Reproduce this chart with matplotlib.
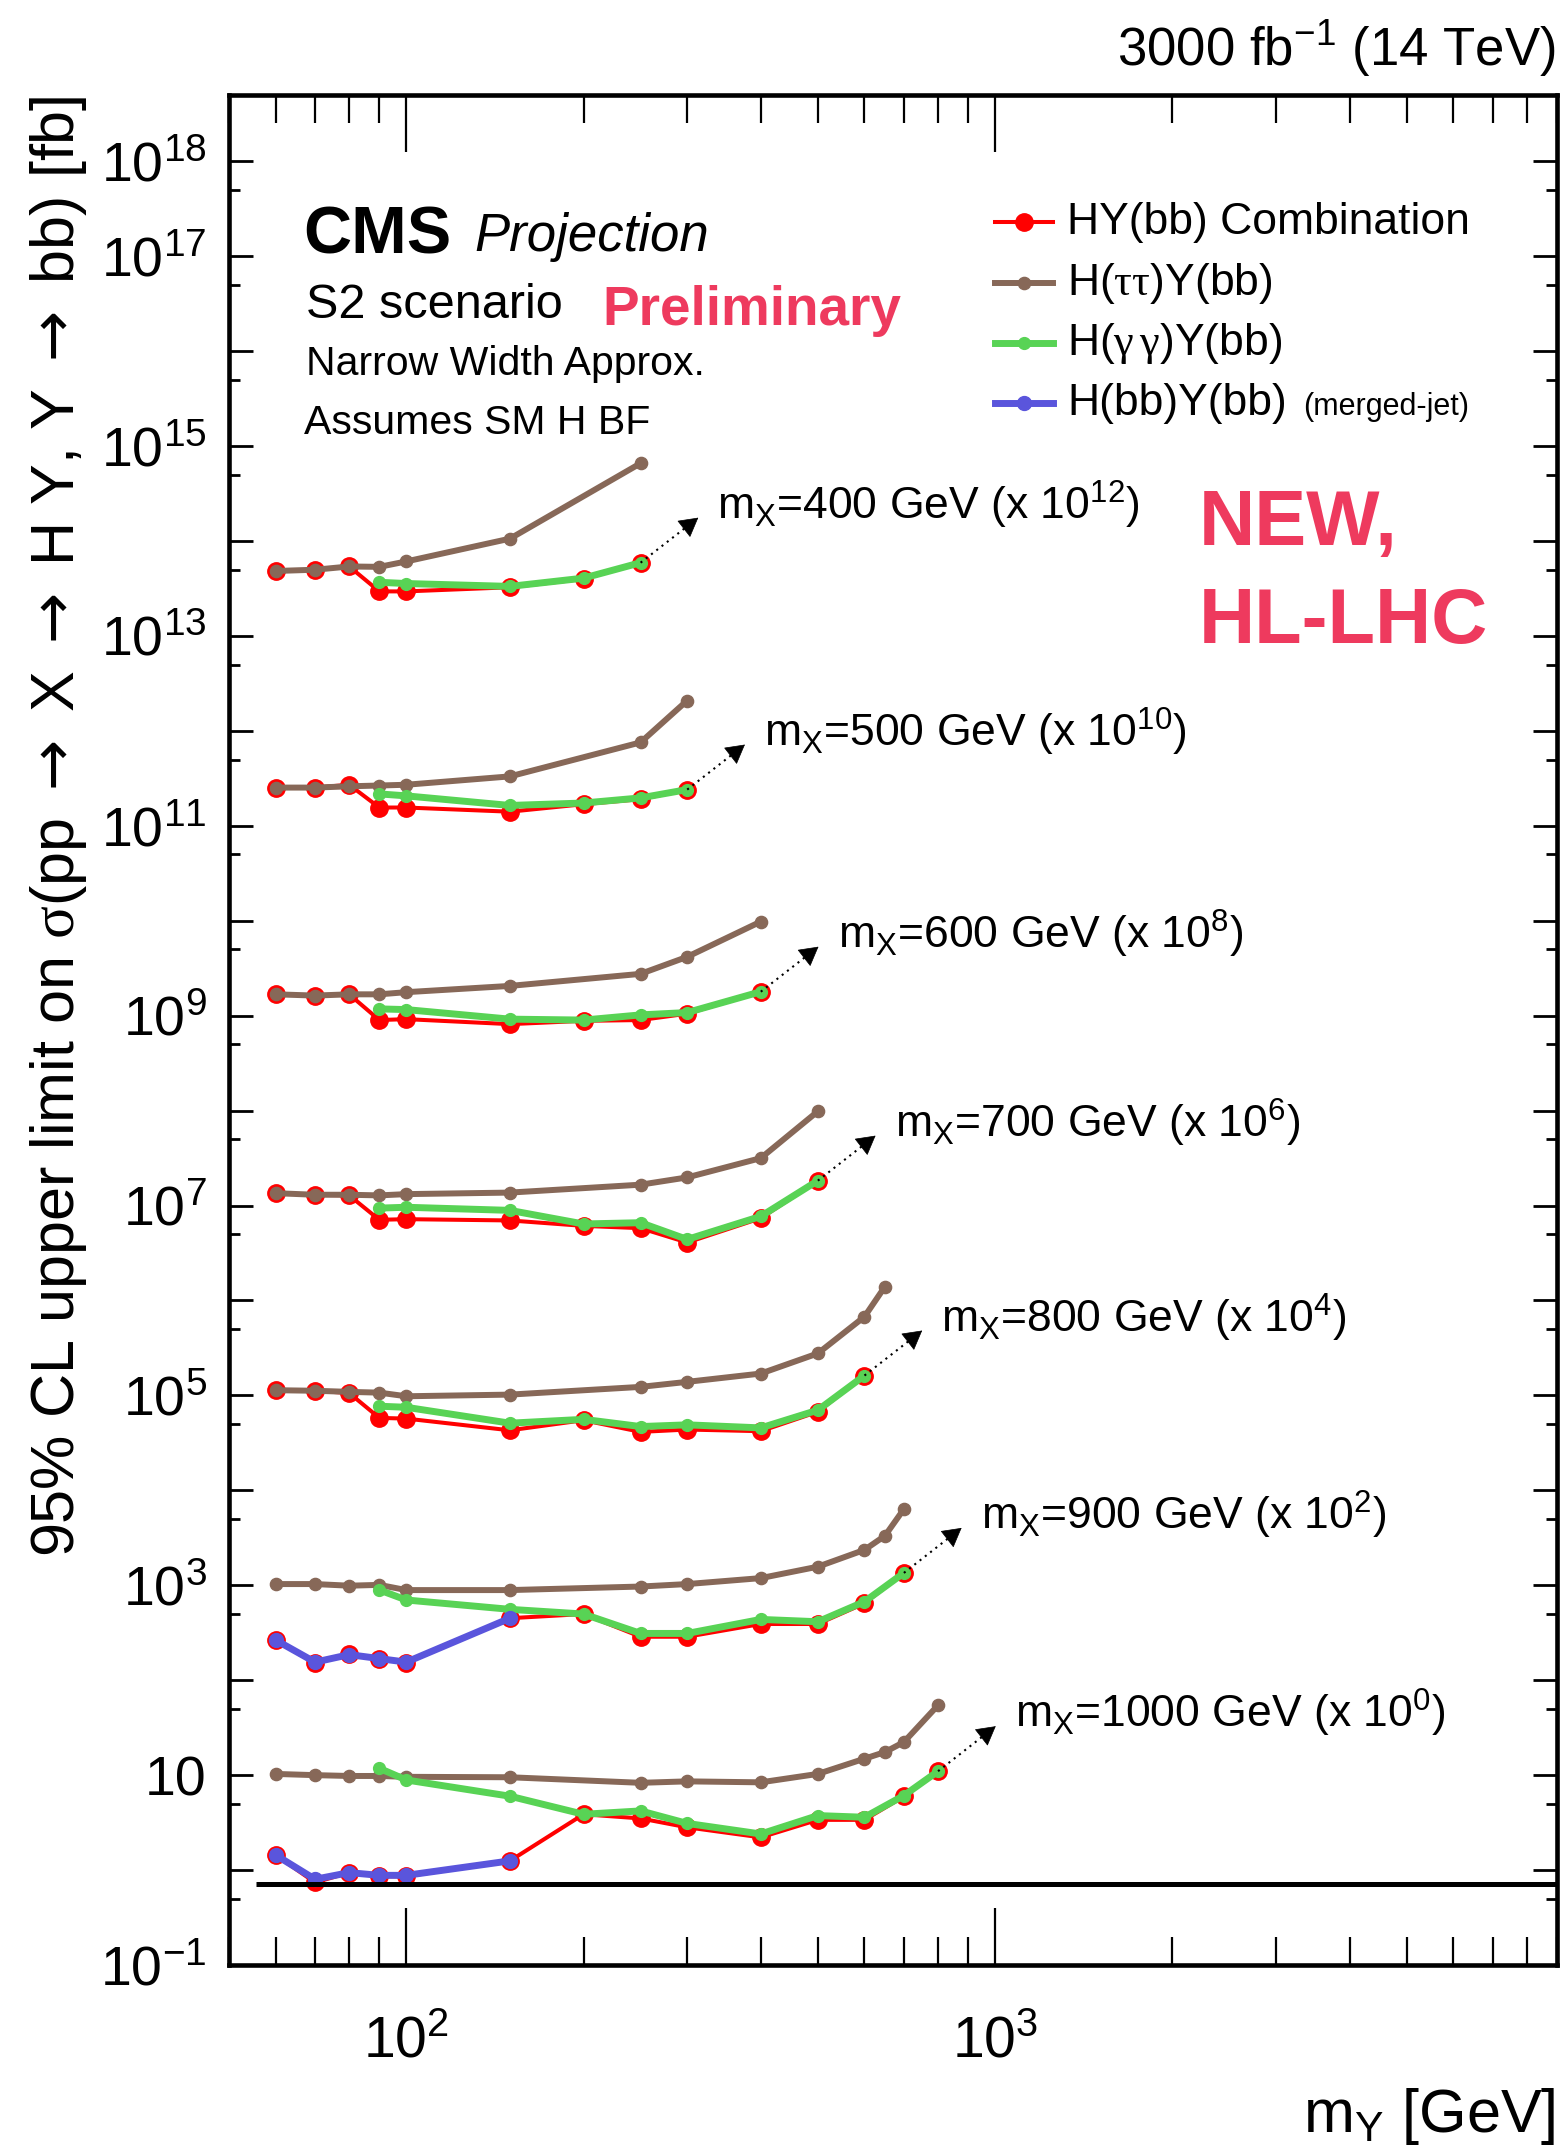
import math
import matplotlib
matplotlib.use("Agg")
import matplotlib.pyplot as plt
from matplotlib.lines import Line2D
from matplotlib.ticker import FixedLocator, FuncFormatter, LogLocator, NullFormatter

plt.rcParams['font.family'] = ['Liberation Sans', 'DejaVu Sans']
plt.rcParams['mathtext.fontset'] = 'custom'
plt.rcParams['mathtext.rm'] = 'Liberation Sans'
plt.rcParams['mathtext.it'] = 'Liberation Sans'
plt.rcParams['mathtext.bf'] = 'Liberation Sans:bold'
plt.rcParams['mathtext.sf'] = 'DejaVu Sans'
plt.rcParams['mathtext.cal'] = 'Liberation Serif'

# ---------------------------------------------------------------------------
# Expected 95% CL limits [fb] vs m_Y [GeV]; each m_X set is shown scaled by
# 10^scale_exp so the curves stack vertically.
# ---------------------------------------------------------------------------
mx_values = [400, 500, 600, 700, 800, 900, 1000]
scale_exps = [12, 10, 8, 6, 4, 2, 0]

# m_X = 400 GeV
my_comb_400 = [60, 70, 80, 90, 100, 150, 200, 250]
comb_400 = [48.4, 49.9, 54.0, 29.5, 29.5, 32.6, 39.9, 59.2]
my_tautau_400 = [60, 70, 80, 90, 100, 150, 250]
tautau_400 = [48.4, 49.9, 54.0, 53.5, 61.0, 106, 660]
my_gg_400 = [90, 100, 150, 200, 250]
gg_400 = [36.8, 35.7, 33.3, 40.7, 59.2]

# m_X = 500 GeV
my_comb_500 = [60, 70, 80, 90, 100, 150, 200, 250, 300]
comb_500 = [25.3, 25.3, 27.1, 15.6, 15.6, 14.1, 16.9, 19.1, 24.1]
my_tautau_500 = [60, 70, 80, 90, 100, 150, 250, 300]
tautau_500 = [25.3, 25.3, 26.1, 26.6, 27.1, 33.2, 75.7, 209]
my_gg_500 = [90, 100, 150, 200, 250, 300]
gg_500 = [21.7, 20.7, 16.4, 17.4, 19.7, 24.1]

# m_X = 600 GeV
my_comb_600 = [60, 70, 80, 90, 100, 150, 200, 250, 300, 400]
comb_600 = [16.8, 16.3, 16.8, 9.0, 9.2, 8.15, 8.83, 9.0, 10.5, 17.9]
my_tautau_600 = [60, 70, 80, 90, 100, 150, 250, 300, 400]
tautau_600 = [16.8, 16.3, 16.8, 16.8, 17.7, 20.6, 27.6, 41.7, 98.0]
my_gg_600 = [90, 100, 150, 200, 250, 300, 400]
gg_600 = [11.8, 11.6, 9.2, 9.0, 10.2, 10.8, 17.9]

# m_X = 700 GeV
my_comb_700 = [60, 70, 80, 90, 100, 150, 200, 250, 300, 400, 500]
comb_700 = [13.5, 13.0, 12.8, 7.08, 7.19, 6.97, 6.11, 5.78, 4.08, 7.36, 18.3]
my_tautau_700 = [60, 70, 80, 90, 100, 150, 250, 300, 400, 500]
tautau_700 = [13.5, 13.0, 13.0, 12.8, 13.2, 13.7, 16.6, 19.8, 31.6, 98.4]
my_gg_700 = [90, 100, 150, 200, 250, 300, 400, 500]
gg_700 = [9.4, 9.6, 8.9, 6.4, 6.6, 4.4, 7.7, 18.3]

# m_X = 800 GeV
my_comb_800 = [60, 70, 80, 90, 100, 150, 200, 250, 300, 400, 500, 600]
comb_800 = [11.35, 11.2, 10.6, 5.8, 5.7, 4.29, 5.48, 4.13, 4.37, 4.20, 6.72, 16.2]
my_tautau_800 = [60, 70, 80, 90, 100, 150, 250, 300, 400, 500, 600, 650]
tautau_800 = [11.35, 11.2, 10.9, 10.7, 9.8, 10.2, 12.3, 13.9, 17.0, 27.7, 67.5, 140]
my_gg_800 = [90, 100, 150, 200, 250, 300, 400, 500, 600]
gg_800 = [7.7, 7.5, 5.1, 5.6, 4.7, 4.9, 4.55, 7.0, 16.2]

# m_X = 900 GeV
my_comb_900 = [60, 70, 80, 90, 100, 150, 200, 250, 300, 400, 500, 600, 700]
comb_900 = [2.65, 1.50, 1.91, 1.69, 1.52, 4.5, 4.98, 2.87, 2.87, 3.91, 3.91, 6.45, 13.5]
my_tautau_900 = [60, 70, 80, 90, 100, 150, 250, 300, 400, 500, 600, 650, 700]
tautau_900 = [10.3, 10.3, 9.9, 10.1, 8.9, 8.9, 9.7, 10.3, 11.9, 15.7, 23.6, 33.2, 63.5]
my_gg_900 = [90, 100, 150, 200, 250, 300, 400, 500, 600, 700]
gg_900 = [8.93, 7.0, 5.58, 4.98, 3.11, 3.11, 4.37, 4.13, 6.72, 13.5]
my_bb_900 = [60, 70, 80, 90, 100, 150]
bb_900 = [2.65, 1.55, 1.86, 1.69, 1.55, 4.5]

# m_X = 1000 GeV
my_comb_1000 = [60, 70, 80, 90, 100, 150, 200, 250, 300, 400, 500, 600, 700, 800]
comb_1000 = [1.44, 0.74, 0.94, 0.86, 0.86, 1.25, 3.87, 3.5, 2.82, 2.21, 3.38, 3.38, 5.96, 11.0]
my_tautau_1000 = [60, 70, 80, 90, 100, 150, 250, 300, 400, 500, 600, 650, 700, 800]
tautau_1000 = [10.3, 10.0, 9.8, 9.8, 9.6, 9.5, 8.3, 8.6, 8.4, 10.3, 14.9, 17.5, 22.3, 54.5]
my_gg_1000 = [90, 100, 150, 200, 250, 300, 400, 500, 600, 700, 800]
gg_1000 = [11.8, 8.9, 6.0, 3.87, 4.2, 3.1, 2.40, 3.75, 3.60, 6.1, 11.0]
my_bb_1000 = [60, 70, 80, 90, 100, 150]
bb_1000 = [1.44, 0.80, 0.94, 0.88, 0.88, 1.25]

# horizontal reference line drawn across the bottom of the plot
ref_line_x = [55.5, 9000]
ref_line_y = 0.72

x_limits = (50, 9000)
y_limits = (0.1, 5e18)

legend_labels = ["HY(bb) Combination", r"H($\mathcal{\tau\tau}$)Y(bb)",
                 r"H($\mathcal{\gamma\,\gamma}$)Y(bb)", "H(bb)Y(bb)"]

# ---------------------------------------------------------------------------
series = {
    'comb': [(my_comb_400, comb_400), (my_comb_500, comb_500), (my_comb_600, comb_600),
             (my_comb_700, comb_700), (my_comb_800, comb_800), (my_comb_900, comb_900),
             (my_comb_1000, comb_1000)],
    'tautau': [(my_tautau_400, tautau_400), (my_tautau_500, tautau_500),
               (my_tautau_600, tautau_600), (my_tautau_700, tautau_700),
               (my_tautau_800, tautau_800), (my_tautau_900, tautau_900),
               (my_tautau_1000, tautau_1000)],
    'gg': [(my_gg_400, gg_400), (my_gg_500, gg_500), (my_gg_600, gg_600),
           (my_gg_700, gg_700), (my_gg_800, gg_800), (my_gg_900, gg_900),
           (my_gg_1000, gg_1000)],
    'bb': [None, None, None, None, None, (my_bb_900, bb_900), (my_bb_1000, bb_1000)],
}

RED = '#FF0000'
BROWN = '#876858'
GREEN = '#58D355'
BLUE = '#5A55DC'
PINK = '#EE3A5E'

styles = {
    'comb': dict(color=RED, lw=2.9, marker='o', ms=12.5, mec=RED, mfc=RED, zorder=2),
    'tautau': dict(color=BROWN, lw=4.3, marker='o', ms=8.8, mec=BROWN, mfc=BROWN, zorder=3),
    'gg': dict(color=GREEN, lw=5.0, marker='o', ms=8.5, mec=GREEN, mfc=GREEN, zorder=4),
    'bb': dict(color=BLUE, lw=5.0, marker='o', ms=10, mec=BLUE, mfc=BLUE, zorder=5),
}

W, H = 1562, 2149


def fx(px):
    return px / W


def fy(py):
    return 1 - py / H


fig = plt.figure(figsize=(W / 100, H / 100), dpi=100)
ax = fig.add_axes([fx(229), fy(1965), fx(1557) - fx(229), fy(95) - fy(1965)])
ax.set_xscale('log')
ax.set_yscale('log')
ax.set_xlim(*x_limits)
ax.set_ylim(*y_limits)

for key in ['comb', 'tautau', 'gg', 'bb']:
    for entry, e in zip(series[key], scale_exps):
        if entry is None:
            continue
        xs, ys = entry
        ax.plot(xs, [v * 10 ** e for v in ys], **styles[key])

ax.plot(ref_line_x, [ref_line_y, ref_line_y], color='k', lw=3.6, zorder=6,
        solid_capstyle='butt')

# dotted arrows from the last point of each combination curve to its label
arrow_dx_dec = 0.098
arrow_dy_dec = 0.474
for (xs, ys), m, e in zip(series['comb'], mx_values, scale_exps):
    x0, y0 = xs[-1], ys[-1] * 10 ** e
    x1, y1 = x0 * 10 ** arrow_dx_dec, y0 * 10 ** arrow_dy_dec
    ax.plot([x0, x1], [y0, y1], color='k', lw=1.5, ls=(0, (1, 2.2)), zorder=7)
    ax.annotate('', xy=(x1, y1), xytext=(-9.9, -7.7), textcoords='offset points',
                arrowprops=dict(arrowstyle='-|>,head_length=1.25,head_width=0.7',
                                mutation_scale=10, color='k', lw=0.5,
                                shrinkA=0, shrinkB=0), zorder=8)
    ax.annotate(r'm$_{\mathrm{X}}$=%d GeV (x 10$^{\mathrm{%d}}$)' % (m, e),
                xy=(x1, y1), xytext=(13.7, -1.4), textcoords='offset points',
                ha='left', va='baseline', fontsize=32)

# axis ticks
ax.xaxis.set_major_locator(LogLocator(base=10))
ax.xaxis.set_minor_locator(LogLocator(base=10, subs=[2, 3, 4, 5, 6, 7, 8, 9]))
ax.xaxis.set_minor_formatter(NullFormatter())
ax.xaxis.set_major_formatter(
    FuncFormatter(lambda v, p: r'$\mathdefault{10^{%d}}$' % round(math.log10(v))))

y_major = [10.0 ** n for n in range(-1, 19)]
y_minor = [5 * 10.0 ** n for n in range(-1, 19)]
ax.yaxis.set_major_locator(FixedLocator(y_major))
ax.yaxis.set_minor_locator(FixedLocator(y_minor))
ax.yaxis.set_minor_formatter(NullFormatter())


def ylab(v, p):
    n = round(math.log10(v))
    if n == 1:
        return '10'
    if n % 2 == 1 or n == 18 or n == -1:
        return r'$\mathdefault{10^{%d}}$' % n
    return ''


ax.yaxis.set_major_formatter(FuncFormatter(ylab))

ax.tick_params(axis='x', which='major', direction='in', length=41, width=1.6,
               top=True, bottom=True, pad=36, labelsize=41)
ax.tick_params(axis='x', which='minor', direction='in', length=20, width=1.6,
               top=True, bottom=True)
ax.tick_params(axis='y', which='major', direction='in', length=17, width=2.0,
               left=True, right=True, pad=16, labelsize=40)
ax.tick_params(axis='y', which='minor', direction='in', length=8, width=2.0,
               left=True, right=True)
for sp in ax.spines.values():
    sp.set_linewidth(3.3)

# axis titles
fig.text(fx(1556), fy(2132), r'm$_{\mathrm{Y}}$ [GeV]', ha='right', va='baseline',
         fontsize=44)
ARR = r'$\mathsf{\rightarrow}$'
fig.text(fx(59), fy(95),
         r'95% CL upper limit on $\mathcal{\sigma}$(pp ' + ARR + ' X ' + ARR +
         ' H Y, Y ' + ARR + ' bb) [fb]',
         rotation=90, ha='center', va='top', fontsize=44)

# header and labels
fig.text(fx(1556), fy(66), r'3000 fb$^{\mathrm{-1}}$ (14 TeV)', ha='right',
         va='baseline', fontsize=38)
fig.text(fx(303), fy(253), 'CMS', fontweight='bold', fontsize=48, va='baseline')
fig.text(fx(474), fy(251), 'Projection', style='italic', fontsize=38, va='baseline')
fig.text(fx(306), fy(318), 'S2 scenario', fontsize=35, va='baseline')
fig.text(fx(602), fy(325), 'Preliminary', fontweight='bold', fontsize=39.5,
         color=PINK, va='baseline')
fig.text(fx(306), fy(375), 'Narrow Width Approx.', fontsize=29.5, va='baseline')
fig.text(fx(304), fy(434), 'Assumes SM H BF', fontsize=29.5, va='baseline')
fig.text(fx(1199), fy(545), 'NEW,', fontweight='bold', fontsize=56, color=PINK,
         va='baseline')
fig.text(fx(1199), fy(643), 'HL-LHC', fontweight='bold', fontsize=56, color=PINK,
         va='baseline')

# legend
leg_rows = [222, 283, 343, 403]
for key, label, yrow in zip(['comb', 'tautau', 'gg', 'bb'], legend_labels, leg_rows):
    st = dict(styles[key])
    st.pop('zorder')
    fig.add_artist(Line2D([fx(995), fx(1024), fx(1053)], [fy(yrow)] * 3,
                          transform=fig.transFigure, markevery=[1], **st))
    fig.text(fx(1067), fy(yrow + 12), label, fontsize=32, va='baseline')
fig.text(fx(1303), fy(leg_rows[3] + 12), '(merged-jet)', fontsize=22, va='baseline')

fig.savefig('out.png', dpi=100)
